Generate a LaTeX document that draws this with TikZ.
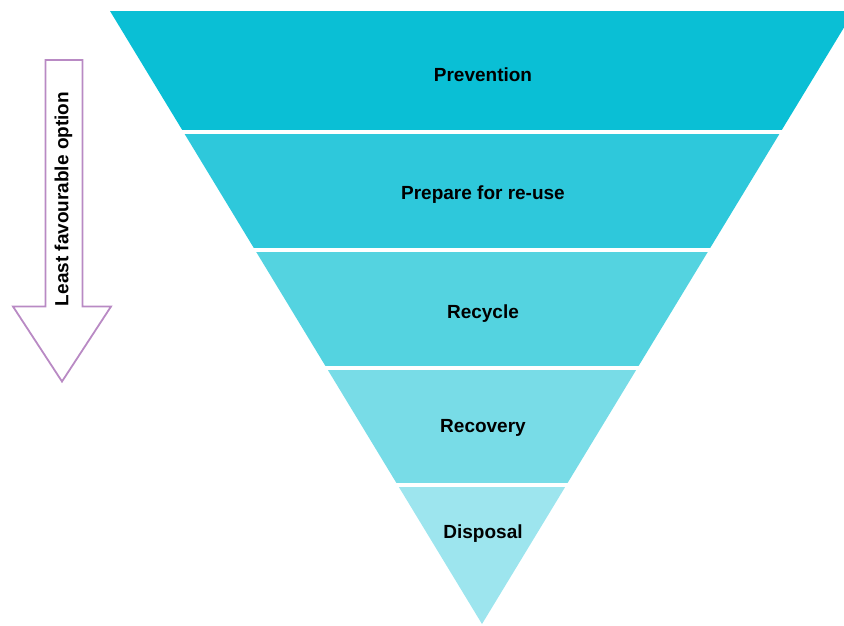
\documentclass[tikz,border=0pt]{standalone}
\usepackage{fontspec}
\setmainfont{Liberation Sans}
\definecolor{cA}{HTML}{0ABFD5}
\definecolor{cB}{HTML}{2EC8DB}
\definecolor{cC}{HTML}{54D3E0}
\definecolor{cD}{HTML}{78DCE7}
\definecolor{cE}{HTML}{9DE5EE}
\definecolor{arrowc}{HTML}{B98AC4}
\begin{document}
\begin{tikzpicture}[x=1pt,y=-1pt,
  lbl/.style={font=\fontsize{19}{21}\selectfont\bfseries, text=black, inner sep=0pt, anchor=base}]
\useasboundingbox (0,0) rectangle (844,625);
\begin{scope}
  \clip (0,0) rectangle (844,625);
  \clip (110,11) -- (854,11) -- (482,624) -- cycle;
  \fill[cA] (0,11) rectangle (844,130);
  \fill[cB] (0,134) rectangle (844,248);
  \fill[cC] (0,252) rectangle (844,366);
  \fill[cD] (0,369.5) rectangle (844,483);
  \fill[cE] (0,487) rectangle (844,625);
\end{scope}
\node[lbl] (prev) at (483,81) {Prevention};
\node[lbl] (prep) at (483,199) {Prepare for re-use};
\node[lbl] (recy) at (483,318) {Recycle};
\node[lbl] (reco) at (483,432) {Recovery};
\node[lbl] (disp) at (483,538) {Disposal};
\draw[arrowc, line width=1.8pt, line join=miter]
  (45.5,60) -- (82.5,60) -- (82.5,306.5) -- (111,306.5) -- (62,381.5) -- (13,306.5) -- (45.5,306.5) -- cycle;
\node[lbl, rotate=90, anchor=center] (least) at (63.5,199) {Least favourable option};
\end{tikzpicture}
\end{document}
